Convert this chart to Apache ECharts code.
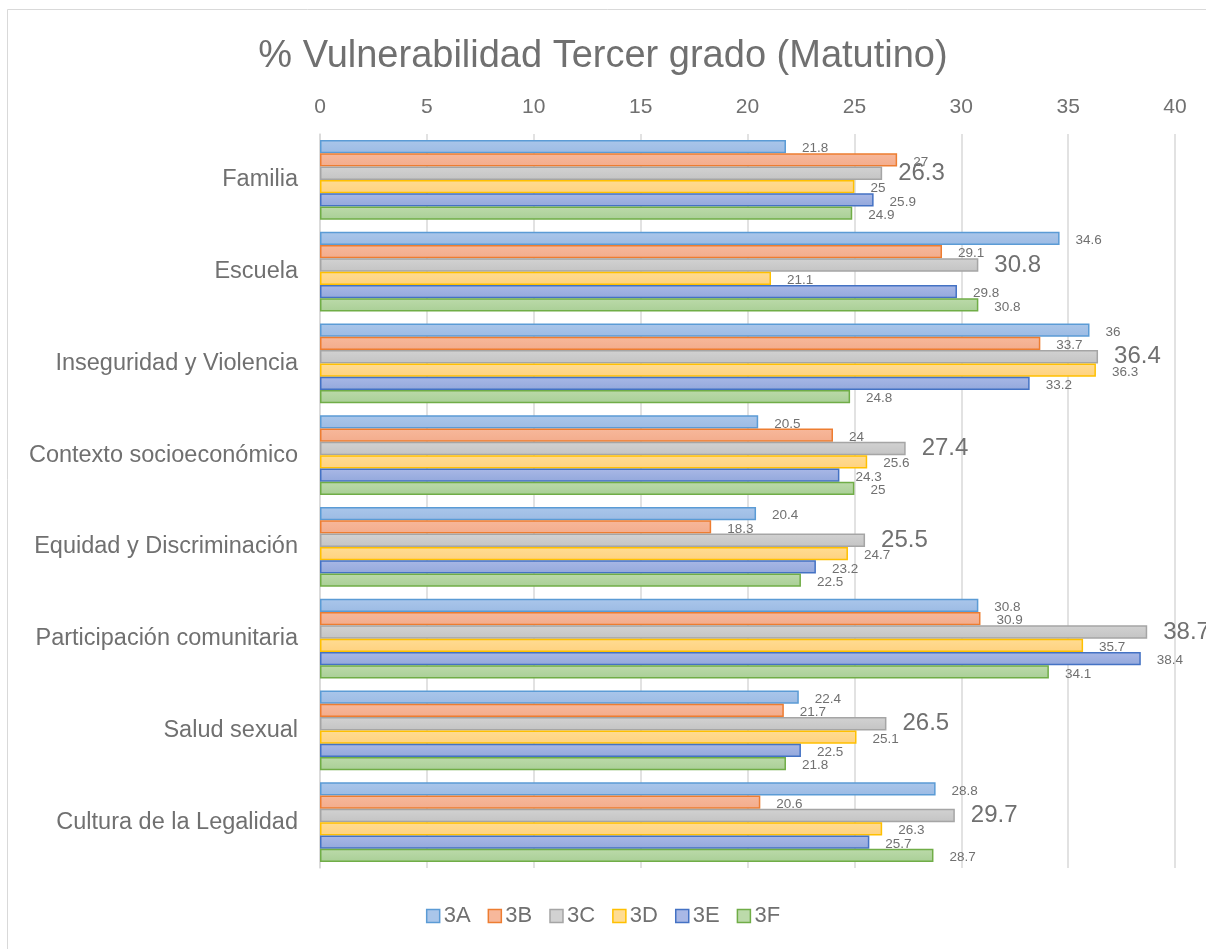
<!DOCTYPE html>
<html>
<head>
<meta charset="utf-8">
<script src="https://cdn.jsdelivr.net/npm/echarts@6/dist/echarts.min.js"></script>
<style>html,body{margin:0;padding:0;background:#fff}#c{width:1206px;height:949px}</style>
</head>
<body>
<div id="c"></div>
<script>
var categories = ['Familia','Escuela','Inseguridad y Violencia','Contexto socioeconómico','Equidad y Discriminación','Participación comunitaria','Salud sexual','Cultura de la Legalidad'];
var s3A = [21.8, 34.6, 36, 20.5, 20.4, 30.8, 22.4, 28.8];
var s3B = [27, 29.1, 33.7, 24, 18.3, 30.9, 21.7, 20.6];
var s3C = [26.3, 30.8, 36.4, 27.4, 25.5, 38.7, 26.5, 29.7];
var s3D = [25, 21.1, 36.3, 25.6, 24.7, 35.7, 25.1, 26.3];
var s3E = [25.9, 29.8, 33.2, 24.3, 23.2, 38.4, 22.5, 25.7];
var s3F = [24.9, 30.8, 24.8, 25, 22.5, 34.1, 21.8, 28.7];
var seriesNames = ['3A','3B','3C','3D','3E','3F'];
var seriesData = [s3A, s3B, s3C, s3D, s3E, s3F];
var xTicks = [0,5,10,15,20,25,30,35,40];

var FONT = 'Liberation Sans, Arial, sans-serif';
var TXT = '#707070';
var styles = [
  {top:'#aac6ea', bot:'#9cbbe4', border:'#5b9bd5'},
  {top:'#f7b89b', bot:'#f3ac8c', border:'#ed7d31'},
  {top:'#d2d2d2', bot:'#c4c4c4', border:'#a5a5a5'},
  {top:'#ffdc93', bot:'#ffd27f', border:'#ffc000'},
  {top:'#a9b8e6', bot:'#93a8dc', border:'#4472c4'},
  {top:'#bcdaaa', bot:'#a9cf96', border:'#70ad47'}
];

var series = seriesNames.map(function(n, i){
  var big = (i === 2);
  return {
    name: n, type: 'bar',
    data: seriesData[i],
    barGap: '0%', barCategoryGap: '13%',
    itemStyle: {
      color: {type:'linear', x:0, y:0, x2:0, y2:1, colorStops:[{offset:0,color:styles[i].top},{offset:1,color:styles[i].bot}]},
      borderColor: styles[i].border, borderWidth: 1.5
    },
    label: {
      show: true, position: 'right', distance: 16,
      color: TXT, fontFamily: FONT,
      fontSize: big ? 24 : 13.5,
      offset: big ? [0, 0] : [0, 2]
    }
  };
});

var chart = echarts.init(document.getElementById('c'), null, {renderer:'canvas'});
chart.setOption({
  animation: false,
  backgroundColor: '#fff',
  title: {
    text: '% Vulnerabilidad Tercer grado (Matutino)',
    left: 'center', top: 33,
    textStyle: {fontFamily: FONT, fontSize: 38, fontWeight:'normal', color: TXT}
  },
  legend: {
    bottom: 17, left: 'center',
    itemWidth: 13, itemHeight: 13, itemGap: 17,
    textStyle: {fontFamily: FONT, fontSize: 22, color: TXT, padding:[0,0,0,-1]},
    data: seriesNames.map(function(n,i){return {name:n, icon:'rect', itemStyle:{color:styles[i].top, borderColor:styles[i].border, borderWidth:1.5}};})
  },
  grid: {left: 320, right: 31, top: 134, bottom: 81, containLabel: false},
  xAxis: {
    type: 'value', position: 'top', min: xTicks[0], max: xTicks[xTicks.length-1], interval: 5,
    axisLine: {show:false}, axisTick: {show:false},
    splitLine: {show:true, lineStyle:{color:'#d9d9d9', width:1.5}},
    axisLabel: {fontFamily: FONT, fontSize: 21, color: TXT, margin: 16}
  },
  yAxis: {
    type: 'category', inverse: true, data: categories,
    axisLine: {show:true, lineStyle:{color:'#d9d9d9', width:1.5}},
    axisTick: {show:false},
    axisLabel: {fontFamily: FONT, fontSize: 23.5, color: TXT, margin: 22}
  },
  graphic: [{
    type:'rect', silent:true, z: -1,
    shape:{x:7.5, y:9.5, width:1400, height:1200},
    style:{fill:'none', stroke:'#d9d9d9', lineWidth:1}
  }],
  series: series
});
</script>
</body>
</html>
